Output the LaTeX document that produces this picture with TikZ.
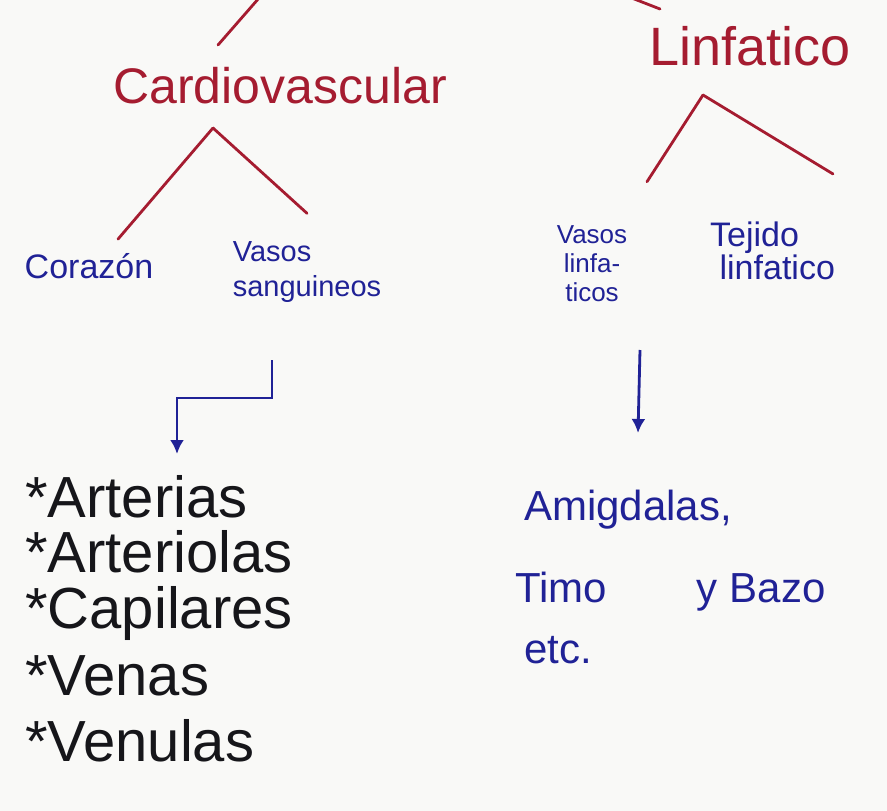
\documentclass[tikz,border=0pt]{standalone}
\usepackage{fontspec}
\setmainfont{Liberation Sans}
\usetikzlibrary{arrows.meta}

\definecolor{redink}{RGB}{165,28,48}
\definecolor{blueink}{RGB}{32,34,150}
\definecolor{blackink}{RGB}{22,22,26}
\definecolor{paper}{RGB}{249,249,247}

\begin{document}
\begin{tikzpicture}[x=1pt, y=-1pt,
    redtxt/.style={text=redink, inner sep=0pt},
    bluetxt/.style={text=blueink, inner sep=0pt, align=left},
    listtxt/.style={text=blackink, inner sep=0pt, anchor=west, font=\fontsize{58}{60}\selectfont},
    redline/.style={draw=redink, line width=2.8pt, line cap=round},
    blueline/.style={draw=blueink, line width=2.8pt, -{Latex[length=14pt,width=14pt]}}]
    \fill[paper] (0,0) rectangle (887,811);
    \clip (0,0) rectangle (887,811);

    % systems
    \node[redtxt, font=\fontsize{50}{50}\selectfont] (cardio) at (280,86) {Cardiovascular};
    \node[redtxt, font=\fontsize{54}{54}\selectfont] (linfa) at (750,46) {Linfatico};

    % parts
    \node[bluetxt, font=\fontsize{34}{34}\selectfont] (corazon) at (89,266) {Corazón};
    \node[bluetxt, font=\fontsize{29}{35}\selectfont] (vsang) at (307,272) {Vasos\\sanguineos};
    \node[bluetxt, font=\fontsize{26}{29}\selectfont, align=center] (vlinf) at (592,264) {Vasos\\linfa-\\ticos};
    \node[bluetxt, font=\fontsize{34}{31}\selectfont, anchor=west] (tejido) at (710,251) {Tejido\\\ linfatico};

    % lists
    \node[listtxt] (arterias) at (25,497) {*Arterias};
    \node[listtxt] (arteriolas) at (25,552) {*Arteriolas};
    \node[listtxt] (capilares) at (25,613) {*Capilares};
    \node[listtxt] (venas) at (25,676) {*Venas};
    \node[listtxt] (venulas) at (25,741) {*Venulas};

    \node[bluetxt, font=\fontsize{42}{42}\selectfont, anchor=west] (amig) at (524,510) {Amigdalas,};
    \node[bluetxt, font=\fontsize{42}{42}\selectfont, anchor=west] (timo) at (515,592) {Timo\hspace{90pt}y\hspace{12pt}Bazo};
    \node[bluetxt, font=\fontsize{42}{42}\selectfont, anchor=west] (etc) at (524,650) {etc.};

    % tree lines
    \coordinate (cvup) at (218,45);
    \coordinate (cvtop) at (213,128);
    \coordinate (lfin) at (660,9);
    \coordinate (lftop) at (703,95);
    \draw[redline] (cvup) -- ++(48,-55);
    \draw[redline] (lfin) -- ++(-36,-14);
    \draw[redline] (cvtop) -- ([shift={(29pt,14pt)}]corazon.north);
    \draw[redline] (cvtop) -- ([yshift=28pt]vsang.north);
    \draw[redline] (lftop) -- ([shift={(55pt,44pt)}]vlinf.north);
    \draw[redline] (lftop) -- ([shift={(123pt,48pt)}]tejido.north west);

    % arrows
    \coordinate (vsout) at (272,360);
    \coordinate (artin) at (177,454);
    \coordinate (vlout) at (640,350);
    \coordinate (amigin) at (638,433);
    \draw[blueline] (vsout) -- ++(0,38) -| (artin);
    \draw[blueline] (vlout) -- (amigin);

\end{tikzpicture}
\end{document}
